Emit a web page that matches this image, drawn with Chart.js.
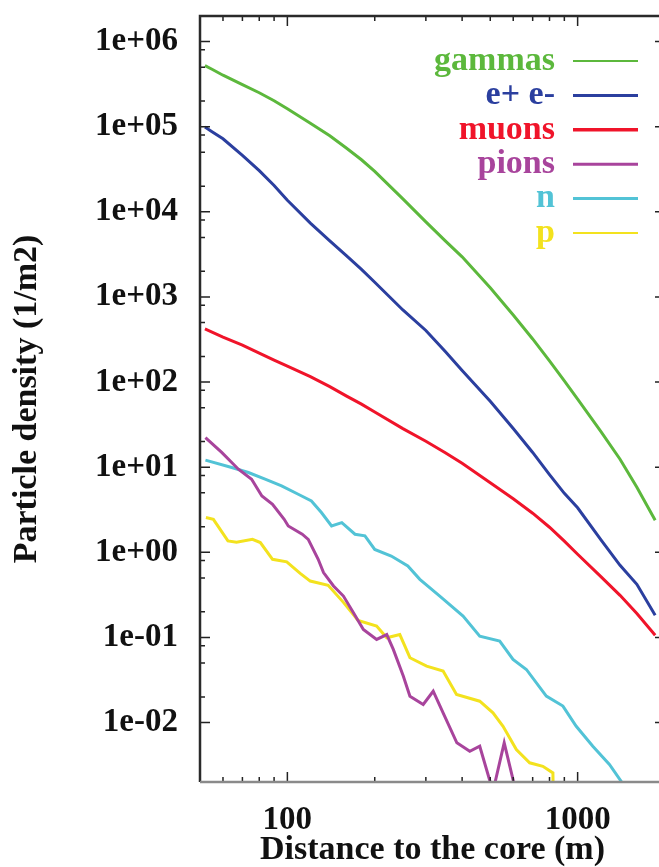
<!DOCTYPE html>
<html>
<head>
<meta charset="utf-8">
<title>Particle density vs distance to the core</title>
<script src="https://cdn.jsdelivr.net/npm/chart.js@4.4.1/dist/chart.umd.min.js"></script>
<style>
  html, body { margin: 0; padding: 0; background: #fff; overflow: hidden; }
  canvas { display: block; }
</style>
</head>
<body>
<canvas id="ldf" width="672" height="867"></canvas>
<script>
"use strict";

// Shared distance grid (m) for the smooth components
const coreDistance = [52, 55, 60, 70, 80, 90, 100, 120, 140, 160, 180, 200, 250,
  300, 350, 400, 500, 600, 700, 800, 900, 1000, 1200, 1400, 1600, 1850];

const gammas = [5.22e5, 4.74e5, 4.03e5, 3.12e5, 2.51e5, 2.02e5, 1.63e5, 1.10e5,
  7.84e4, 5.58e4, 4.09e4, 2.99e4, 1.42e4, 7.63e3, 4.56e3, 2.96e3, 1.28e3, 614,
  321, 177, 103, 63, 26.5, 12.4, 5.8, 2.38];

const electrons = [9.9e4, 8.74e4, 7.22e4, 4.62e4, 3.05e4, 2.04e4, 1.37e4, 7.36e3,
  4.56e3, 3.03e3, 2.11e3, 1.49e3, 703, 404, 228, 137, 59.4, 28.5, 14.9, 8.18,
  4.93, 3.33, 1.42, 0.703, 0.42, 0.182];

const muons = [421, 387, 338, 272, 219, 181, 154, 116, 88.5, 68.4, 55.1, 44.4,
  28.4, 20.2, 14.8, 11.1, 6.58, 4.26, 2.88, 1.97, 1.35, 0.947, 0.522, 0.312,
  0.191, 0.106];

// The hadronic components are noisier and sampled on their own grids
const pionDistance = [52.2, 59.4, 67.8, 75.3, 81.7, 88.9, 97.5, 100.7, 112.5, 118,
  127.7, 133.2, 144.2, 156, 168.9, 182.7, 203, 220, 231.7, 250.8, 264.4, 293.8,
  318, 344, 383.6, 425, 460, 502, 518, 558.5, 604];
const pions = [22.3, 14.9, 9.47, 7.22, 4.59, 3.67, 2.44, 2.04, 1.63, 1.42, 0.828,
  0.577, 0.402, 0.306, 0.195, 0.124, 0.0947, 0.108, 0.0723, 0.0351, 0.0204,
  0.0163, 0.0233, 0.013, 0.00577, 0.00459, 0.00526, 0.0019, 0.0019, 0.00577,
  0.0019];

const neutronDistance = [52.2, 64.3, 73.4, 83.8, 95.5, 109, 121, 131, 142, 154,
  171, 185, 200, 228, 260, 286, 335, 403, 460, 539, 599, 666, 780, 890, 989,
  1128, 1287, 1412, 1450];
const neutrons = [12.1, 9.9, 8.66, 7.22, 6.03, 4.81, 4.01, 2.93, 2.04, 2.23, 1.63,
  1.56, 1.08, 0.904, 0.69, 0.481, 0.306, 0.178, 0.1035, 0.0904, 0.0551, 0.042,
  0.0204, 0.0156, 0.00904, 0.00526, 0.00321, 0.00204, 0.0017];

const protonDistance = [52.4, 55.6, 62.4, 66.8, 75.8, 80.7, 88.9, 99.5, 110.7,
  119.9, 138.2, 156, 175.2, 203, 220, 244, 264.4, 301.8, 344, 382.6, 460, 511,
  553.4, 615, 683.5, 759, 822, 823];
const protons = [2.56, 2.44, 1.36, 1.31, 1.42, 1.30, 0.828, 0.773, 0.566, 0.459,
  0.409, 0.258, 0.158, 0.136, 0.0991, 0.108, 0.0577, 0.0459, 0.0402, 0.0213,
  0.0178, 0.013, 0.00904, 0.00481, 0.00336, 0.00306, 0.00256, 0.0019];

const xMajor = [100, 1000];
const xMinor = [60, 70, 80, 90, 200, 300, 400, 500, 600, 700, 800, 900, 2000];
const yMajor = [1e-2, 1e-1, 1, 1e1, 1e2, 1e3, 1e4, 1e5, 1e6];
const yMinorSteps = [2, 5, 8];

const series = [
  { label: "gammas", x: coreDistance, y: gammas, color: "#5cb83c" },
  { label: "e+ e-", x: coreDistance, y: electrons, color: "#2b3f9f" },
  { label: "muons", x: coreDistance, y: muons, color: "#f0142a" },
  { label: "pions", x: pionDistance, y: pions, color: "#a8449c" },
  { label: "n", x: neutronDistance, y: neutrons, color: "#52c3d6" },
  { label: "p", x: protonDistance, y: protons, color: "#f3e21e" },
];

const serif = "'Liberation Serif', 'Times New Roman', serif";

function sci(v) {
  const e = Math.round(Math.log10(v));
  return "1e" + (e < 0 ? "-" : "+") + String(Math.abs(e)).padStart(2, "0");
}

// gnuplot-style frame with inward ticks on all four sides
const frameTicks = {
  id: "frameTicks",
  afterDatasetsDraw(chart) {
    const { ctx, chartArea: a, scales: { x, y } } = chart;
    ctx.save();
    ctx.strokeStyle = "#222";
    ctx.lineWidth = 1.5;
    ctx.beginPath();
    const xt = xMajor.map((v) => [v, 10]).concat(xMinor.map((v) => [v, 5]));
    xt.forEach(([v, len]) => {
      const px = x.getPixelForValue(v);
      ctx.moveTo(px, a.bottom);
      ctx.lineTo(px, a.bottom - len);
      ctx.moveTo(px, a.top);
      ctx.lineTo(px, a.top + len);
    });
    const yt = yMajor.map((v) => [v, 10]);
    yMajor.forEach((v) => yMinorSteps.forEach((m) => yt.push([v * m, 5])));
    yt.forEach(([v, len]) => {
      const py = y.getPixelForValue(v);
      if (py < a.top || py > a.bottom) return;
      ctx.moveTo(a.left, py);
      ctx.lineTo(a.left + len, py);
      ctx.moveTo(a.right, py);
      ctx.lineTo(a.right - len, py);
    });
    ctx.stroke();

    ctx.lineWidth = 2.5;
    ctx.strokeStyle = "#2a2a2a";
    ctx.beginPath();
    ctx.moveTo(a.left, a.bottom);
    ctx.lineTo(a.left, a.top);
    ctx.lineTo(a.right, a.top);
    ctx.lineTo(a.right, a.bottom);
    ctx.stroke();
    ctx.strokeStyle = "#8a8a8a";
    ctx.beginPath();
    ctx.moveTo(a.left, a.bottom);
    ctx.lineTo(a.right, a.bottom);
    ctx.stroke();
    ctx.restore();
  },
};

// Key in the top right: label in the series colour, sample line to its right
const seriesKey = {
  id: "seriesKey",
  afterDraw(chart, args, opts) {
    const { ctx } = chart;
    ctx.save();
    ctx.font = "bold " + opts.fontSize + "px " + serif;
    ctx.textAlign = "right";
    ctx.textBaseline = "middle";
    chart.data.datasets.forEach((ds, i) => {
      const rowY = opts.top + i * opts.rowGap;
      ctx.fillStyle = ds.borderColor;
      ctx.fillText(ds.label, opts.textRight, rowY);
      ctx.strokeStyle = ds.borderColor;
      ctx.lineWidth = opts.lineWidths[i];
      ctx.beginPath();
      ctx.moveTo(opts.lineFrom, rowY);
      ctx.lineTo(opts.lineTo, rowY);
      ctx.stroke();
    });
    ctx.restore();
  },
};

// Labels near the frame edges must not shrink the plot area
function noEdgePadding(scale) {
  scale.paddingTop = 0;
  scale.paddingBottom = 0;
  scale.paddingLeft = 0;
  scale.paddingRight = 0;
}

new Chart(document.getElementById("ldf"), {
  type: "line",
  data: {
    datasets: series.map((s) => ({
      label: s.label,
      data: s.x.map((d, i) => ({ x: d, y: s.y[i] })),
      borderColor: s.color,
      borderWidth: 3,
      pointRadius: 0,
      tension: 0,
      fill: false,
    })),
  },
  options: {
    responsive: false,
    animation: false,
    devicePixelRatio: 1,
    layout: { padding: { top: 16, right: 7, bottom: 0, left: 0 } },
    plugins: {
      legend: { display: false },
      tooltip: { enabled: false },
      seriesKey: {
        fontSize: 34,
        textRight: 555,
        top: 61,
        rowGap: 34.4,
        lineFrom: 573,
        lineTo: 638,
        lineWidths: [2, 3, 3.5, 3, 3, 2],
      },
    },
    scales: {
      x: {
        type: "logarithmic",
        min: 50,
        max: 2000,
        grid: { display: false, drawTicks: false },
        border: { display: false },
        afterBuildTicks: (scale) => {
          scale.ticks = xMajor.map((v) => ({ value: v }));
        },
        afterFit: (scale) => {
          scale.height = 85;
          noEdgePadding(scale);
        },
        ticks: {
          autoSkip: false,
          maxRotation: 0,
          minRotation: 0,
          padding: 19,
          color: "#111",
          font: { family: serif, size: 33, weight: "bold", lineHeight: 1.2 },
          callback: (v) => String(v),
        },
        title: {
          display: true,
          text: "Distance to the core (m)",
          color: "#111",
          font: { family: serif, size: 34, weight: "bold", lineHeight: 1 },
          padding: { top: 0, bottom: 0 },
        },
      },
      y: {
        type: "logarithmic",
        min: 0.002,
        max: 2e6,
        grid: { display: false, drawTicks: false },
        border: { display: false },
        afterBuildTicks: (scale) => {
          scale.ticks = yMajor.map((v) => ({ value: v }));
        },
        afterFit: (scale) => {
          scale.width = 200;
          noEdgePadding(scale);
        },
        ticks: {
          autoSkip: false,
          padding: 22,
          color: "#111",
          font: { family: serif, size: 33, weight: "bold", lineHeight: 1.2 },
          callback: (v) => sci(v),
        },
        title: {
          display: true,
          text: "Particle density (1/m2)",
          color: "#111",
          font: { family: serif, size: 34, weight: "bold", lineHeight: 1 },
          padding: { top: 10, bottom: 0 },
        },
      },
    },
  },
  plugins: [frameTicks, seriesKey],
});
</script>
</body>
</html>
